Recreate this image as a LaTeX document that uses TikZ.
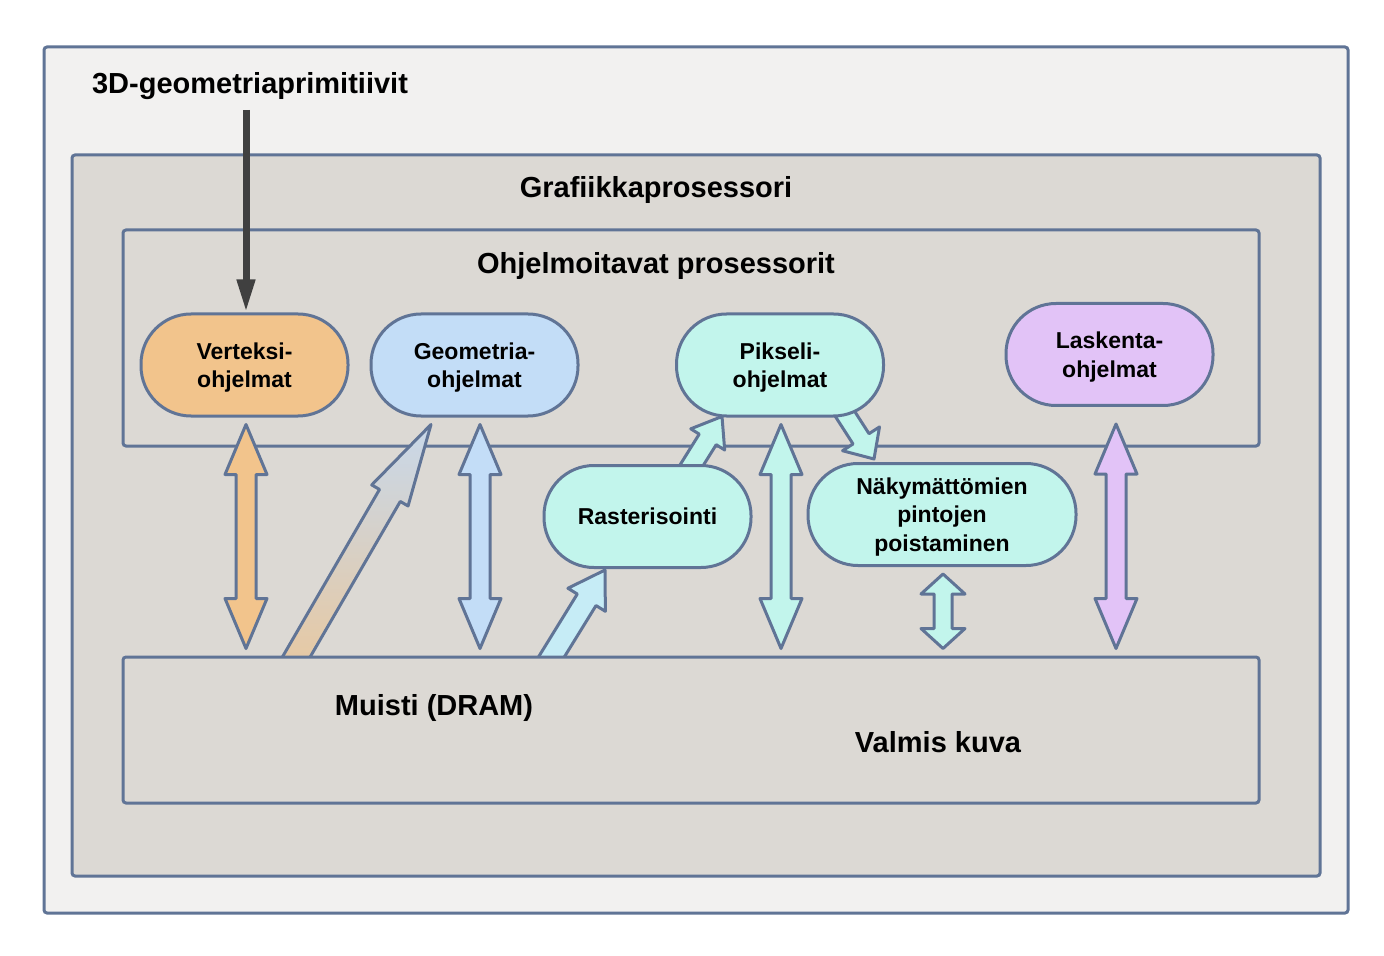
\documentclass[tikz,border=0pt]{standalone}
\usepackage{fontspec}
\setmainfont{Liberation Sans}
\usetikzlibrary{calc,arrows.meta}

\pgfdeclarelayer{back}
\pgfdeclarelayer{mid}
\pgfsetlayers{back,mid,main}

\definecolor{edgecol}{RGB}{96,116,150}
\definecolor{outerfill}{RGB}{242,241,240}
\definecolor{gpufill}{RGB}{220,217,212}
\definecolor{vertfill}{RGB}{242,196,140}
\definecolor{geofill}{RGB}{195,221,247}
\definecolor{pixfill}{RGB}{194,245,236}
\definecolor{laskfill}{RGB}{226,195,247}
\definecolor{rastarrow}{RGB}{198,236,246}
\definecolor{geoarrow}{RGB}{200,216,234}
\definecolor{vertarrow}{RGB}{232,200,160}
\definecolor{inkcol}{RGB}{64,64,64}

\newcommand{\bigfont}{\fontsize{14.5}{17}\selectfont\bfseries}
\newcommand{\smallfont}{\fontsize{11.5}{14.25}\selectfont\bfseries}

% block arrow with two heads: start, end, half shaft, half head, head length, style
\newcommand{\dblarrow}[6]{%
  \path #1 coordinate (s) #2 coordinate (e);
  \coordinate (h0) at ($(s)!#5!(e)$);
  \coordinate (h1) at ($(e)!#5!(s)$);
  \draw[blk,#6] (s) -- ($(h0)!#4!90:(e)$) -- ($(h0)!#3!90:(e)$)
    -- ($(h1)!#3!-90:(s)$) -- ($(h1)!#4!-90:(s)$) -- (e)
    -- ($(h1)!#4!90:(s)$) -- ($(h1)!#3!90:(s)$)
    -- ($(h0)!#3!-90:(e)$) -- ($(h0)!#4!-90:(e)$) -- cycle;
}
% block arrow with one head
\newcommand{\onearrow}[6]{%
  \path #1 coordinate (s) #2 coordinate (e);
  \coordinate (h1) at ($(e)!#5!(s)$);
  \draw[blk,#6] ($(s)!#3!90:(e)$) -- ($(h1)!#3!-90:(s)$) -- ($(h1)!#4!-90:(s)$) -- (e)
    -- ($(h1)!#4!90:(s)$) -- ($(h1)!#3!90:(s)$) -- ($(s)!#3!-90:(e)$) -- cycle;
}

\tikzset{
  box/.style={draw=edgecol, line width=1.5pt, rounded corners=1.5pt},
  prog/.style={draw=edgecol, line width=1.5pt, rounded corners=25pt,
    minimum width=103.5pt, minimum height=51pt, align=center, font=\smallfont,
    text depth=0pt},
  blk/.style={draw=edgecol, line width=1.5pt, line join=round},
  title/.style={font=\bigfont, inner sep=0pt, text depth=0pt}
}

\begin{document}
\begin{tikzpicture}[x=0.5pt,y=-0.5pt]
\useasboundingbox (0,0) rectangle (1384,956);

\begin{pgfonlayer}{back}
\fill[white] (0,0) rectangle (1384,956);
\draw[box, fill=outerfill] (44,47) rectangle (1348,913);
\draw[box, fill=gpufill] (72,155) rectangle (1320,876);
\draw[box] (123,230) rectangle (1259,446);
\end{pgfonlayer}

\node[title] (in) at (250,83) {3D-geometriaprimitiivit};
\node[title] (gpu) at (656,187) {Grafiikkaprosessori};
\node[title] (pp) at (656,263) {Ohjelmoitavat prosessorit};

\node[prog, fill=vertfill] (vert) at (244.5,365) {Verteksi-\\ohjelmat};
\node[prog, fill=geofill] (geo) at (474.5,365) {Geometria-\\ohjelmat};
\node[prog, fill=pixfill] (pix) at (780,365) {Pikseli-\\ohjelmat};
\node[prog, fill=laskfill] (lask) at (1109.5,354.5) {Laskenta-\\ohjelmat};
\node[prog, fill=pixfill] (rast) at (647.5,516.5) {Rasterisointi};
\node[prog, fill=pixfill, minimum width=134pt] (nak) at (942,514.5) {Näkymättömien\\pintojen\\poistaminen};

\node[box, fill=gpufill, minimum width=568pt, minimum height=73pt] (mem) at (691,730) {};
\node[title] (dram) at (434,705) {Muisti (DRAM)};
\node[title] (img) at (938,742) {Valmis kuva};

% input
\coordinate (src) at (246,110);
\draw[line width=3.5pt, inkcol, -{Triangle[length=16.5pt,width=8.5pt]}] (src) -- (src |- vert.north);

\begin{pgfonlayer}{mid}
\dblarrow{($(vert.south)+(1.5,7)$)}{($(vert.south |- mem.north)+(1.5,-7)$)}{5pt}{10.5pt}{25pt}{fill=vertfill}
\dblarrow{($(geo.south)+(5.5,7)$)}{($(geo.south |- mem.north)+(5.5,-7)$)}{5pt}{10.5pt}{25pt}{fill=geofill}
\dblarrow{($(pix.south)+(1,7)$)}{($(pix.south |- mem.north)+(1,-7)$)}{5pt}{10.5pt}{25pt}{fill=pixfill}
\dblarrow{($(lask.south)+(6.5,17)$)}{($(lask.south |- mem.north)+(6.5,-7)$)}{5pt}{10.5pt}{25pt}{fill=laskfill}
\dblarrow{($(nak.south)+(1,7)$)}{($(nak.south |- mem.north)+(1,-7)$)}{4.5pt}{11pt}{10pt}{fill=pixfill}

\onearrow{($(mem.north)+(-401.4,13)$)}{($(geo.south)+(-43.5,7)$)}{6pt}{10.5pt}{41pt}{top color=geoarrow, bottom color=vertarrow}
\onearrow{($(mem.north)+(-146.7,13)$)}{($(rast.south)+(-42.5,1)$)}{5.5pt}{11pt}{17.5pt}{fill=rastarrow}
\onearrow{($(rast.north)+(35.5,15)$)}{($(pix.south)+(-58,-1)$)}{5pt}{10pt}{13.5pt}{fill=pixfill}
\onearrow{($(pix.south)+(57,-16)$)}{($(nak.north)+(-68,-3)$)}{4.75pt}{11pt}{12pt}{fill=pixfill}
\end{pgfonlayer}

\end{tikzpicture}
\end{document}
